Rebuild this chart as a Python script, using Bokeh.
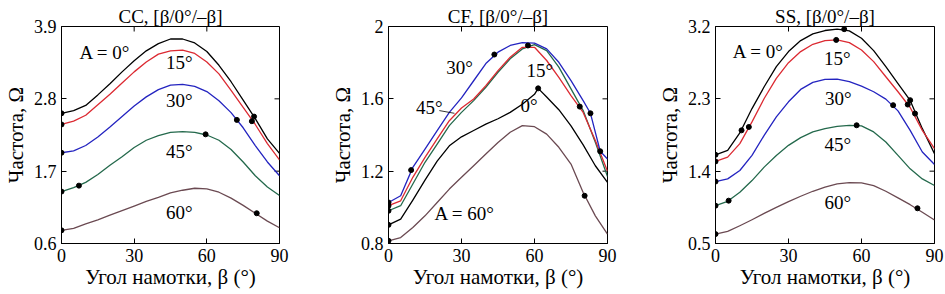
from math import pi
from bokeh.plotting import figure
from bokeh.layouts import row
from bokeh.models import FixedTicker, Range1d
from bokeh.core.properties import value
from bokeh.embed import file_html
from bokeh.resources import INLINE

FONT = "'Liberation Serif', 'Times New Roman', serif"

BETA = [0, 5, 10, 15, 20, 25, 30, 35, 40, 45, 50, 55, 60, 65, 70, 75, 80, 85, 90]
X_TICKS = [0, 30, 60, 90]
X_LABEL = "Угол намотки, β (°)"
Y_LABEL = "Частота, Ω"

COLORS = {"0": "#000000", "15": "#dc2a32", "30": "#2424c0", "45": "#24694c", "60": "#6b4a52"}

# ---------------- CC ----------------
CC_TITLE = "CC, [β/0°/–β]"
CC_YTICKS = [0.6, 1.7, 2.8, 3.9]
CC_0 = [2.58, 2.62, 2.70, 2.86, 3.03, 3.21, 3.38, 3.53, 3.64, 3.71, 3.71, 3.65, 3.52, 3.31, 3.06, 2.78, 2.50, 2.19, 1.97]
CC_15 = [2.41, 2.46, 2.55, 2.71, 2.87, 3.04, 3.21, 3.36, 3.48, 3.53, 3.54, 3.49, 3.36, 3.18, 2.93, 2.67, 2.41, 2.12, 1.87]
CC_30 = [1.98, 2.01, 2.09, 2.22, 2.37, 2.53, 2.69, 2.83, 2.94, 3.01, 3.02, 2.99, 2.91, 2.77, 2.59, 2.36, 2.09, 1.84, 1.63]
CC_45 = [1.39, 1.45, 1.53, 1.65, 1.79, 1.92, 2.06, 2.17, 2.24, 2.29, 2.30, 2.29, 2.25, 2.17, 2.03, 1.84, 1.63, 1.46, 1.33]
CC_60 = [0.80, 0.83, 0.90, 0.96, 1.03, 1.10, 1.17, 1.24, 1.30, 1.37, 1.41, 1.44, 1.43, 1.38, 1.29, 1.18, 1.06, 0.94, 0.84]
CC_DOT_X = [0, 0, 0, 0, 0, 79.5, 78.6, 72.4, 59.5, 7.2, 80.6]
CC_DOT_Y = [2.58, 2.41, 1.98, 1.39, 0.80, 2.53, 2.46, 2.48, 2.26, 1.48, 1.06]
CC_LAB_TEXT = ["A = 0°", "15°", "30°", "45°", "60°"]
CC_LAB_X = [7.4, 48.6, 48.6, 48.6, 48.6]
CC_LAB_Y = [3.50, 3.36, 2.78, 2.00, 1.07]
CC_LAB_ALIGN = ["left", "center", "center", "center", "center"]

# ---------------- CF ----------------
CF_TITLE = "CF, [β/0°/–β]"
CF_YTICKS = [0.8, 1.2, 1.6, 2.0]
CF_BETA_0 = [0, 5, 10, 15, 20, 25, 30, 35, 40, 45, 50, 55, 60, 61.5, 65, 70, 75, 80, 85, 90]
CF_0 = [0.903, 0.935, 1.04, 1.15, 1.255, 1.34, 1.39, 1.425, 1.46, 1.49, 1.525, 1.57, 1.625, 1.658, 1.61, 1.54, 1.45, 1.345, 1.23, 1.138]
CF_15 = [1.009, 1.036, 1.166, 1.276, 1.378, 1.479, 1.549, 1.599, 1.673, 1.756, 1.830, 1.885, 1.885, 1.812, 1.719, 1.618, 1.525, 1.369, 1.20]
CF_BETA_30 = [0, 5, 10, 15, 20, 25, 30, 35, 40, 45, 50, 55, 60, 65, 70, 75, 80, 83, 87, 90]
CF_30 = [1.027, 1.064, 1.221, 1.322, 1.424, 1.525, 1.605, 1.700, 1.795, 1.858, 1.895, 1.911, 1.908, 1.876, 1.802, 1.701, 1.59, 1.52, 1.31, 1.267]
CF_45 = [0.981, 1.009, 1.129, 1.249, 1.350, 1.452, 1.525, 1.590, 1.664, 1.747, 1.821, 1.876, 1.900, 1.867, 1.775, 1.655, 1.535, 1.360, 1.17]
CF_60 = [0.815, 0.833, 0.889, 0.953, 1.027, 1.101, 1.166, 1.230, 1.295, 1.359, 1.415, 1.452, 1.446, 1.405, 1.332, 1.239, 1.082, 0.953, 0.852]
CF_DOT_X = [0, 0, 0, 0, 0, 9.3, 43.5, 57.3, 61.5, 78.6, 83, 87, 80.6]
CF_DOT_Y = [1.027, 1.009, 0.981, 0.903, 0.815, 1.206, 1.845, 1.895, 1.658, 1.557, 1.52, 1.31, 1.064]
CF_LAB_TEXT = ["30°", "15°", "45°", "0°", "A = 60°"]
CF_LAB_X = [29.2, 62.2, 16.8, 57.8, 31.3]
CF_LAB_Y = [1.775, 1.756, 1.55, 1.562, 0.966]
CF_LAB_ALIGN = ["center", "center", "center", "center", "center"]
CF_LEADER_X = [20.9, 27.1]
CF_LEADER_Y = [1.535, 1.52]

# ---------------- SS ----------------
SS_TITLE = "SS, [β/0°/–β]"
SS_YTICKS = [0.5, 1.4, 2.3, 3.2]
SS_0 = [1.604, 1.658, 1.875, 2.179, 2.45, 2.70, 2.888, 3.025, 3.108, 3.15, 3.167, 3.146, 3.054, 2.90, 2.70, 2.49, 2.28, 1.929, 1.617]
SS_15 = [1.521, 1.575, 1.742, 2.013, 2.304, 2.554, 2.75, 2.888, 2.979, 3.025, 3.033, 3.0, 2.908, 2.763, 2.575, 2.388, 2.192, 1.908, 1.679]
SS_30 = [1.271, 1.304, 1.408, 1.596, 1.846, 2.075, 2.263, 2.417, 2.504, 2.542, 2.546, 2.513, 2.458, 2.388, 2.296, 2.15, 1.908, 1.638, 1.483]
SS_45 = [0.971, 1.025, 1.138, 1.283, 1.45, 1.596, 1.721, 1.817, 1.888, 1.929, 1.958, 1.971, 1.963, 1.888, 1.763, 1.596, 1.429, 1.304, 1.221]
SS_60 = [0.617, 0.65, 0.721, 0.796, 0.875, 0.95, 1.021, 1.088, 1.15, 1.2, 1.242, 1.258, 1.254, 1.221, 1.15, 1.067, 0.983, 0.888, 0.792]
SS_DOT_X = [0, 0, 0, 0, 0, 10.7, 13.7, 52.9, 49.6, 79, 80, 82, 73, 5.4, 58, 83]
SS_DOT_Y = [1.604, 1.521, 1.271, 0.971, 0.617, 1.908, 1.95, 3.167, 3.033, 2.229, 2.283, 2.117, 2.221, 1.033, 1.971, 0.938]
SS_LAB_TEXT = ["A = 0°", "15°", "30°", "45°", "60°"]
SS_LAB_X = [7.1, 50.1, 50.5, 50.3, 50.3]
SS_LAB_Y = [2.89, 2.805, 2.31, 1.73, 1.005]
SS_LAB_ALIGN = ["left", "center", "center", "center", "center"]


def style_axis(ax, ticks, overrides=None):
    ax.ticker = FixedTicker(ticks=ticks)
    ax.major_tick_in = 5
    ax.major_tick_out = 0
    ax.minor_tick_line_color = None
    ax.axis_line_color = "black"
    ax.major_tick_line_color = "black"
    ax.major_label_text_font = FONT
    ax.major_label_text_font_size = "18px"
    ax.major_label_text_color = "black"
    ax.major_label_standoff = 5
    if overrides:
        ax.major_label_overrides = overrides
    ax.axis_label_text_font = FONT
    ax.axis_label_text_font_size = "21px"
    ax.axis_label_text_font_style = "normal"
    ax.axis_label_text_color = "black"


def make_panel(title, ymin, ymax, yticks, overrides, series, dots, labels, bl, br):
    p = figure(width=315, height=294, output_backend="svg", toolbar_location=None,
               x_range=Range1d(0, 90), y_range=Range1d(ymin, ymax),
               min_border_left=bl, min_border_right=br, min_border_top=26, min_border_bottom=51)
    p.title.text = title
    p.title.text_font = FONT
    p.title.text_font_size = "19px"
    p.title.text_font_style = "normal"
    p.title.text_color = "black"
    p.title.align = "center"
    p.title.standoff = 0
    p.grid.visible = False
    p.outline_line_color = "black"
    p.outline_line_alpha = 1

    style_axis(p.xaxis[0], X_TICKS)
    style_axis(p.yaxis[0], yticks, overrides)
    p.xaxis.axis_label = X_LABEL
    p.yaxis.axis_label = Y_LABEL
    p.xaxis.axis_label_standoff = 0
    p.yaxis.axis_label_standoff = 3

    # inward ticks on the right and top edges of the frame
    p.ray(x=[90] * len(yticks), y=yticks, length=5, length_units="screen",
          angle=pi, line_color="black", line_width=1)
    p.ray(x=X_TICKS, y=[ymax] * len(X_TICKS), length=5, length_units="screen",
          angle=-pi / 2, line_color="black", line_width=1)

    for xs, ys, key in series:
        p.line(xs, ys, line_color=COLORS[key], line_width=1.3, line_join="round")
    dx, dy = dots
    p.scatter(dx, dy, size=5, fill_color="black", line_color="black")
    lx, ly, lt, la = labels
    for x, y, t, a in zip(lx, ly, lt, la):
        p.text(x=[x], y=[y], text=[t], text_font=value(FONT), text_font_size="19px",
               text_align=a, text_baseline="middle", text_color="black")
    return p


p1 = make_panel(CC_TITLE, 0.6, 3.9, CC_YTICKS, None,
                [(BETA, CC_0, "0"), (BETA, CC_15, "15"), (BETA, CC_30, "30"),
                 (BETA, CC_45, "45"), (BETA, CC_60, "60")],
                (CC_DOT_X, CC_DOT_Y),
                (CC_LAB_X, CC_LAB_Y, CC_LAB_TEXT, CC_LAB_ALIGN), 60, 36)

p2 = make_panel(CF_TITLE, 0.8, 2.0, CF_YTICKS, {2: "2"},
                [(CF_BETA_0, CF_0, "0"), (BETA, CF_45, "45"), (BETA, CF_15, "15"),
                 (CF_BETA_30, CF_30, "30"), (BETA, CF_60, "60")],
                (CF_DOT_X, CF_DOT_Y),
                (CF_LAB_X, CF_LAB_Y, CF_LAB_TEXT, CF_LAB_ALIGN), 73, 23)
p2.line(CF_LEADER_X, CF_LEADER_Y, line_color="black", line_width=0.8)

p3 = make_panel(SS_TITLE, 0.5, 3.2, SS_YTICKS, None,
                [(BETA, SS_0, "0"), (BETA, SS_15, "15"), (BETA, SS_30, "30"),
                 (BETA, SS_45, "45"), (BETA, SS_60, "60")],
                (SS_DOT_X, SS_DOT_Y),
                (SS_LAB_X, SS_LAB_Y, SS_LAB_TEXT, SS_LAB_ALIGN), 85, 11)

layout = row(p1, p2, p3, spacing=0)
open("out.html", "w").write(file_html(layout, INLINE))
